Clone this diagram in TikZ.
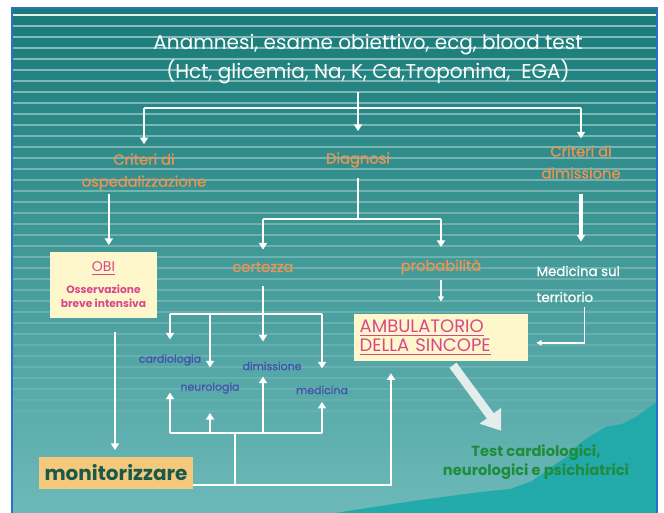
\documentclass[tikz,border=0pt]{standalone}
\usepackage{fontspec}
\setmainfont{Poppins}
\newfontfamily\semibf{Poppins}[FakeBold=0.6]
\usetikzlibrary{arrows.meta}
\definecolor{slideTop}{HTML}{177B78}
\definecolor{slideMid}{HTML}{3A9A98}
\definecolor{slideBot}{HTML}{6DB9B9}
\definecolor{hill}{HTML}{1CA9AA}
\definecolor{frameBlue}{HTML}{2C6FC4}
\definecolor{orangeTxt}{HTML}{EE9450}
\definecolor{pinkTxt}{HTML}{D9488A}
\definecolor{blueTxt}{HTML}{4650AA}
\definecolor{greenTxt}{HTML}{1F8C3B}
\definecolor{monitTxt}{HTML}{1B5A4A}
\definecolor{cream}{HTML}{FDF7CB}
\definecolor{monitFill}{HTML}{F5C97C}
\definecolor{fatGrey}{HTML}{E4ECEC}
\begin{document}
\begin{tikzpicture}[x=0.75pt, y=-0.75pt,
  lbl/.style={inner sep=1pt, align=center},
  orangelbl/.style={lbl, text=orangeTxt, font=\semibf\fontsize{11}{16.5}\selectfont},
  bluelbl/.style={lbl, text=blueTxt, font=\semibf\fontsize{8.2}{9}\selectfont},
  wline/.style={draw=white, line width=1.9pt},
  warr/.style={wline, -{Triangle[width=6pt,length=5pt]}},
  tarr/.style={draw=white, line width=1pt, -{Triangle[width=4pt,length=4pt]}},
  fatarr/.style={draw=fatGrey, line width=6.5pt, -{Triangle[width=19pt,length=14pt]}}]
% slide background
\fill[white] (0,0) rectangle (664,513);
\useasboundingbox (0,0) rectangle (664,513);
\shade[top color=slideTop, middle color=slideMid, bottom color=slideBot] (12,8) rectangle (657,513);
\foreach \i in {0,...,36} {
  \pgfmathsetmacro\yy{15+\i*11}
  \pgfmathsetmacro\op{0.5-\i*0.012}
  \draw[white, opacity=\op, line width=1.1pt] (12,\yy) -- (657,\yy);
}
\draw[white, opacity=0.75, line width=2pt] (12,15) -- (657,15);
\fill[hill, opacity=0.9] (335,513) -- (380,506) -- (420,500) -- (450,496) -- (480,492) -- (510,489) -- (532,481) -- (550,468) -- (566,457) -- (580,443) -- (594,434) -- (606,427) -- (622,424) -- (636,417) -- (648,408) -- (657,402) -- (657,513) -- cycle;
\draw[frameBlue, line width=1.6pt] (12,513) -- (12,8) -- (657,8) -- (657,513);

% nodes
\node[lbl, text=white, font=\fontsize{15}{21.75}\selectfont] (title) at (368,59) {Anamnesi, esame obiettivo, ecg, blood test\\(Hct, glicemia, Na, K, Ca,Troponina,\ \ EGA)};
\node[orangelbl] (critOsp) at (144,172) {Criteri di\\ospedalizzazione};
\node[orangelbl] (diag) at (358,160) {Diagnosi};
\node[orangelbl] (critDim) at (581,162) {Criteri di\\dimissione};
\node[fill=cream, minimum width=80pt, minimum height=49.5pt, align=center, inner sep=2pt,
  text=pinkTxt, font=\fontsize{8}{11}\selectfont\bfseries] (obi) at (103.5,285)
  {{\fontsize{10.5}{12}\selectfont\mdseries\underline{OBI}}\\[5pt]Osservazione\\breve intensiva};
\node[orangelbl] (cert) at (263,267) {certezza};
\node[orangelbl] (prob) at (441,267) {probabilità};
\node[lbl, anchor=west, align=left, text=white, font=\semibf\fontsize{10}{19.5}\selectfont] (terr) at (535,284) {Medicina sul\\territorio};
\node[fill=cream, minimum width=130.5pt, minimum height=35.25pt, text width=122pt, align=left, inner xsep=4pt,
  text=pinkTxt, font=\fontsize{13.5}{14.25}\selectfont] (amb) at (441,337.5) {\underline{AMBULATORIO}\\\underline{DELLA SINCOPE}};
\node[bluelbl] (cardio) at (170,360) {cardiologia};
\node[bluelbl] (neuro) at (210,388) {neurologia};
\node[bluelbl] (dimis) at (272,366) {dimissione};
\node[bluelbl] (medic) at (322,390) {medicina};
\node[fill=monitFill, minimum width=115.5pt, minimum height=24pt, text=monitTxt,
  font=\fontsize{15}{16}\selectfont\bfseries] (monit) at (116,473) {monitorizzare};
\node[lbl, text=greenTxt, font=\fontsize{11}{14.5}\selectfont\bfseries] (test) at (536,462) {Test cardiologici,\\neurologici e psichiatrici};

% top level
\coordinate (tStem) at (358,92);
\coordinate (jTop) at (358,108);
\draw[warr] (tStem) -- ([yshift=14.8pt]diag.north);
\draw[wline] (critOsp.north |- jTop) -- (critDim.north |- jTop);
\draw[warr] (critOsp.north |- jTop) -- ([yshift=5.8pt]critOsp.north);
\draw[warr] (critDim.north |- jTop) -- ([yshift=4pt]critDim.north);

% ospedalizzazione
\coordinate (oTop) at ([xshift=4pt]obi.north);
\draw[warr, shorten <=1.5pt, shorten >=5pt] (oTop |- critOsp.south) -- (oTop);
\coordinate (oBot) at ([xshift=8.6pt]obi.south);
\draw[warr, shorten <=10.5pt, shorten >=5pt] (oBot) -- (oBot |- monit.north);

% diagnosi
\coordinate (jDiag) at (358,219);
\draw[wline, shorten <=6.5pt] (diag.south) -- (jDiag);
\draw[wline] (cert.north |- jDiag) -- (prob.north |- jDiag);
\draw[warr, shorten >=8pt] (cert.north |- jDiag) -- (cert.north);
\draw[warr, shorten >=8pt] (prob.north |- jDiag) -- (prob.north);

% certezza
\coordinate (jCert) at (262,314);
\draw[warr, shorten <=9pt, shorten >=14pt] (cert.south) -- (cert.south |- dimis.north);
\draw[wline] (cardio.north |- jCert) -- (medic.north |- jCert);
\draw[warr, shorten >=10pt] (cardio.north |- jCert) -- (cardio.north);
\draw[warr, shorten >=10pt] (neuro.north |- jCert) -- (neuro.north);
\draw[warr, shorten >=11.8pt] (medic.north |- jCert) -- (medic.north);
\coordinate (jBot) at (235,433);
\coordinate (jLow) at (235,485);
\draw[wline] (cardio.south |- jBot) -- (medic.south |- jBot);
\draw[warr, shorten >=19pt] (cardio.south |- jBot) -- (cardio.south);
\draw[warr, shorten >=13.3pt] (neuro.south |- jBot) -- (neuro.south);
\draw[warr, shorten >=3.5pt] (cert.south |- jBot) -- (cert.south |- dimis.south);
\draw[warr, shorten >=4.5pt] (medic.south |- jBot) -- (medic.south);
\draw[wline] (jBot) -- (jLow);
\draw[warr, shorten >=9pt] ([yshift=-9pt]monit.east) -| ([xshift=-37.5pt]amb.south);

% dimissione
\draw[warr, line width=2.6pt, shorten <=10pt, shorten >=17pt] (critDim.south) -- (critDim.south |- terr.north);
\draw[tarr, shorten <=2.5pt, shorten >=6pt] ([xshift=4.5pt]terr.south) |- ([yshift=-4pt]amb.east);
\draw[tarr, shorten <=3pt, shorten >=9pt] (prob.south) -- (prob.south |- amb.north);
\draw[fatarr] ([xshift=9pt,yshift=-3pt]amb.south) -- ([xshift=-26pt,yshift=9pt]test.north);
\end{tikzpicture}
\end{document}
